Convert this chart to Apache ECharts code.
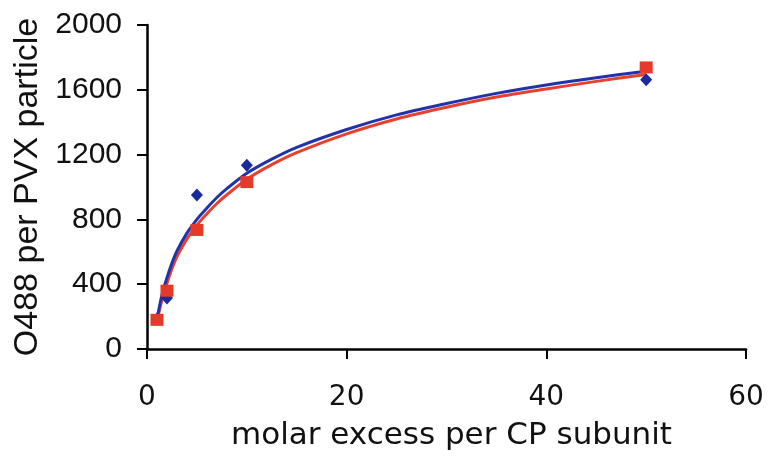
<!DOCTYPE html>
<html>
<head>
<meta charset="utf-8">
<script src="https://cdn.jsdelivr.net/npm/echarts@6/dist/echarts.min.js"></script>
<style>
  html, body { margin: 0; padding: 0; background: #fff; }
  #chart { width: 770px; height: 459px; }
</style>
</head>
<body>
<div id="chart"></div>
<script>
// measured points (molar excess vs dye per particle)
const excess = [1, 2, 5, 10, 50];
const blueO488 = [185, 315, 950, 1135, 1662];
const redO488 = [180, 360, 735, 1030, 1738];

// trend curves
const fitX = [1, 1.5, 2, 2.5, 3, 4, 5, 6, 7, 8, 10, 12.5, 15, 20, 25, 30, 35, 40, 45, 50];
const blueFit = [185, 335, 440, 530, 605, 715, 800, 870, 935, 990, 1085, 1172, 1245, 1355, 1445, 1515, 1578, 1630, 1675, 1715];
const redFit = [170, 305, 405, 495, 570, 680, 765, 835, 898, 952, 1048, 1138, 1212, 1328, 1420, 1492, 1555, 1605, 1652, 1695];

const xTicks = [0, 20, 40, 60];
const yTicks = [0, 400, 800, 1200, 1600, 2000];

const blue = "#1b2a9c";
const red = "#e5392a";

const pairs = (xs, ys) => xs.map((x, i) => [x, ys[i]]);

const myChart = echarts.init(document.getElementById("chart"));

myChart.setOption({
  animation: false,
  backgroundColor: "#fff",
  grid: { left: 147, right: 24, top: 25, bottom: 110 },
  xAxis: {
    type: "value",
    min: xTicks[0],
    max: xTicks[xTicks.length - 1],
    interval: 20,
    name: "molar excess per CP subunit",
    nameLocation: "middle",
    nameGap: 71,
    nameTextStyle: { fontFamily: "DejaVu Sans", fontSize: 31, color: "#111", padding: [0, 0, 0, 10] },
    axisLine: { lineStyle: { color: "#000", width: 2.5 } },
    axisTick: { length: 10, lineStyle: { color: "#000", width: 2 } },
    axisLabel: { margin: 35, fontFamily: "DejaVu Sans", fontSize: 28, color: "#111" },
    splitLine: { show: false },
  },
  yAxis: {
    type: "value",
    min: yTicks[0],
    max: yTicks[yTicks.length - 1],
    interval: 400,
    name: "O488 per PVX particle",
    nameLocation: "middle",
    nameGap: 99,
    nameTextStyle: { fontFamily: "Liberation Sans", fontSize: 34, color: "#111" },
    axisLine: { show: true, lineStyle: { color: "#000", width: 2.5 } },
    axisTick: { show: true, length: 10, lineStyle: { color: "#000", width: 2 } },
    axisLabel: {
      margin: 25,
      fontFamily: "Liberation Sans",
      fontSize: 30,
      color: "#111",
      formatter: (v) => String(v),
    },
    splitLine: { show: false },
  },
  series: [
    {
      name: "red fit",
      type: "line",
      smooth: 0.3,
      showSymbol: false,
      data: pairs(fitX, redFit),
      lineStyle: { color: "#e8402f", width: 3 },
      z: 2,
    },
    {
      name: "blue fit",
      type: "line",
      smooth: 0.3,
      showSymbol: false,
      data: pairs(fitX, blueFit),
      lineStyle: { color: "#2233aa", width: 3 },
      z: 3,
    },
    {
      name: "blue",
      type: "scatter",
      symbol: "diamond",
      symbolSize: [12, 13],
      itemStyle: { color: blue, opacity: 1 },
      data: pairs(excess, blueO488),
      z: 4,
    },
    {
      name: "red",
      type: "scatter",
      symbol: "rect",
      symbolSize: [13, 12],
      itemStyle: { color: red, opacity: 1 },
      data: pairs(excess, redO488),
      z: 5,
    },
  ],
});
</script>
</body>
</html>
